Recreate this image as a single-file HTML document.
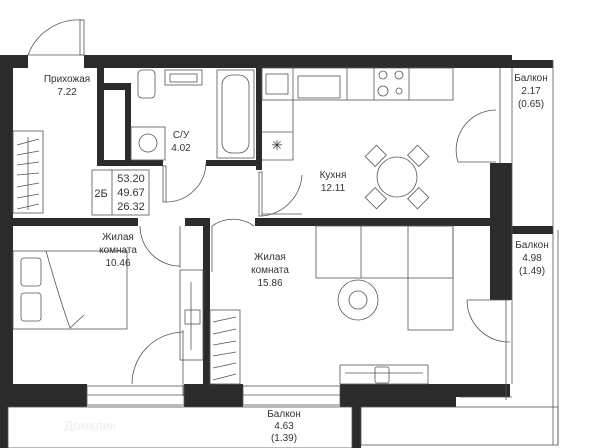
<!DOCTYPE html>
<html><head><meta charset="utf-8"><style>
body{margin:0;background:#fff;width:600px;height:448px;overflow:hidden}
svg{display:block}
text{font-family:"Liberation Sans",sans-serif;font-size:10px;fill:#333;text-anchor:middle}
.l{fill:none;stroke:#555;stroke-width:0.8}
.w{fill:#2b2b2b}
</style></head><body>
<svg width="600" height="448" viewBox="0 0 600 448">
<rect class="w" x="0" y="55" width="28" height="13"/>
<rect class="w" x="84" y="55" width="428" height="13"/>
<rect class="w" x="512" y="60" width="41" height="8"/>
<rect class="w" x="0" y="55" width="13" height="340"/>
<rect class="w" x="0" y="380" width="8" height="68"/>
<rect class="w" x="97" y="68" width="7" height="98"/>
<rect class="w" x="97" y="83" width="34" height="7"/>
<rect class="w" x="125" y="83" width="6" height="83"/>
<rect class="w" x="97" y="160" width="66" height="6"/>
<rect class="w" x="206" y="160" width="56" height="6"/>
<rect class="w" x="256" y="68" width="6" height="102"/>
<rect class="w" x="490" y="163" width="22" height="137"/>
<rect class="w" x="512" y="226" width="41" height="8"/>
<rect class="w" x="13" y="218" width="125" height="8"/>
<rect class="w" x="185" y="218" width="18" height="8"/>
<rect class="w" x="255" y="218" width="235" height="8"/>
<rect class="w" x="203" y="218" width="7" height="172"/>
<rect class="w" x="0" y="384" width="87" height="23"/>
<rect class="w" x="184" y="384" width="59" height="23"/>
<rect class="w" x="340" y="384" width="116" height="23"/>
<rect class="w" x="456" y="384" width="54" height="13"/>
<rect class="w" x="352" y="407" width="9" height="41"/>
<rect class="l" x="87" y="386" width="97" height="19"/>
<line class="l" x1="87" y1="395" x2="184" y2="395"/>
<rect class="l" x="243" y="386" width="97" height="19"/>
<line class="l" x1="243" y1="395" x2="340" y2="395"/>
<rect class="l" x="8" y="407" width="344" height="41"/>
<rect class="l" x="361" y="407" width="197" height="38"/>
<line class="l" x1="553" y1="60" x2="553" y2="445"/>
<line class="l" x1="558" y1="230" x2="558" y2="445"/>
<line class="l" x1="512" y1="68" x2="512" y2="384"/>
<line class="l" x1="500" y1="68" x2="500" y2="163"/>
<line class="l" x1="506" y1="300" x2="506" y2="400"/>
<line class="l" x1="460" y1="397" x2="512" y2="397"/>
<rect class="l" x="80" y="20" width="4" height="35"/>
<path class="l" d="M28 55 A54 54 0 0 1 82 20"/>
<line class="l" x1="28" y1="55" x2="84" y2="55"/>
<rect class="l" x="163" y="166" width="3" height="36"/>
<path class="l" d="M166 202 A40 40 0 0 0 206 163"/>
<rect class="l" x="259" y="172" width="3" height="44"/>
<path class="l" d="M262 216 A44 44 0 0 0 302 175"/>
<line class="l" x1="262" y1="214" x2="302" y2="214"/>
<path class="l" d="M458 162 A40 40 0 0 1 496 110"/>
<line class="l" x1="458" y1="162" x2="496" y2="162"/>
<path class="l" d="M140 226 A40 40 0 0 0 180 266"/><line class="l" x1="180" y1="226" x2="180" y2="268"/>
<path class="l" d="M212 226 A36 36 0 0 1 254 226"/><line class="l" x1="212" y1="226" x2="212" y2="272"/>
<path class="l" d="M132 384 A52 52 0 0 1 183 332"/><line class="l" x1="183" y1="330" x2="183" y2="396"/>
<path class="l" d="M467 300 A42 42 0 0 0 510 342"/><line class="l" x1="467" y1="300" x2="510" y2="300"/>
<rect class="l" x="138" y="70" width="17" height="28" rx="4"/>
<rect class="l" x="165" y="70" width="37" height="15"/><rect class="l" x="170" y="74" width="27" height="8"/>
<rect class="l" x="217" y="70" width="37" height="88"/><rect class="l" x="222" y="75" width="27" height="78" rx="10"/>
<rect class="l" x="131" y="127" width="34" height="33"/><circle class="l" cx="148" cy="143" r="9"/>
<rect class="l" x="13" y="131" width="30" height="82"/>
<line class="l" x1="28" y1="137" x2="28" y2="210"/>
<g class="l"><line x1="17" y1="145" x2="39" y2="139"/><line x1="17" y1="155" x2="39" y2="151"/><line x1="17" y1="165" x2="39" y2="162"/><line x1="17" y1="175" x2="39" y2="173"/><line x1="17" y1="187" x2="39" y2="183"/><line x1="17" y1="198" x2="39" y2="194"/><line x1="17" y1="209" x2="39" y2="204"/></g>
<rect class="l" x="92" y="170" width="57" height="45"/><line class="l" x1="112" y1="170" x2="112" y2="215"/>
<rect class="l" x="262" y="68" width="191" height="32"/>
<line class="l" x1="293" y1="68" x2="293" y2="160"/><line class="l" x1="262" y1="160" x2="293" y2="160"/>
<line class="l" x1="262" y1="132" x2="293" y2="132"/>
<rect class="l" x="266" y="74" width="22" height="20"/>
<rect class="l" x="298" y="76" width="42" height="22"/>
<line class="l" x1="347" y1="68" x2="347" y2="100"/><line class="l" x1="374" y1="68" x2="374" y2="100"/><line class="l" x1="409" y1="68" x2="409" y2="100"/>
<circle class="l" cx="383" cy="75" r="4"/><circle class="l" cx="399" cy="75" r="4"/><circle class="l" cx="383" cy="91" r="5"/><circle class="l" cx="399" cy="91" r="3"/>
<text x="277" y="150" style="font-size:14px">✳</text>
<circle class="l" cx="397" cy="177" r="20"/>
<g class="l" transform="rotate(45 397 177)"><rect x="389" y="140" width="16" height="14"/><rect x="389" y="200" width="16" height="14"/><rect x="360" y="169" width="14" height="16"/><rect x="420" y="169" width="14" height="16"/></g>
<rect class="l" x="13" y="251" width="114" height="78"/>
<rect class="l" x="21" y="258" width="20" height="28" rx="3"/><rect class="l" x="21" y="293" width="20" height="28" rx="3"/>
<path class="l" d="M46 251 Q60 300 70 328 L84 315"/>
<rect class="l" x="180" y="270" width="23" height="90"/>
<line class="l" x1="191" y1="282" x2="191" y2="350"/>
<rect class="l" x="185" y="310" width="15" height="14"/>
<rect class="l" x="316" y="226" width="137" height="52"/>
<rect class="l" x="408" y="226" width="45" height="104"/>
<line class="l" x1="361" y1="226" x2="361" y2="278"/>
<circle class="l" cx="358" cy="300" r="20"/><circle class="l" cx="358" cy="300" r="9"/>
<rect class="l" x="210" y="310" width="30" height="74"/>
<g class="l"><line x1="213" y1="322" x2="236" y2="317"/><line x1="213" y1="334" x2="236" y2="329"/><line x1="213" y1="345" x2="236" y2="341"/><line x1="213" y1="356" x2="236" y2="352"/><line x1="213" y1="368" x2="236" y2="363"/><line x1="213" y1="380" x2="236" y2="374"/></g>
<rect class="l" x="340" y="365" width="88" height="19"/>
<line class="l" x1="345" y1="373" x2="423" y2="373"/>
<rect class="l" x="375" y="367" width="14" height="16" rx="2"/>
<text x="67" y="82">Прихожая</text><text x="67" y="95">7.22</text>
<text x="181" y="138">С/У</text><text x="181" y="151">4.02</text>
<text x="101" y="197" style="font-size:11px">2Б</text>
<text x="131" y="182" style="font-size:11px">53.20</text><text x="131" y="196" style="font-size:11px">49.67</text><text x="131" y="210" style="font-size:11px">26.32</text>
<text x="333" y="178">Кухня</text><text x="333" y="191">12.11</text>
<text x="531" y="81">Балкон</text><text x="531" y="94">2.17</text><text x="531" y="107">(0.65)</text>
<text x="118" y="240">Жилая</text><text x="118" y="253">комната</text><text x="118" y="266">10.46</text>
<text x="270" y="260">Жилая</text><text x="270" y="273">комната</text><text x="270" y="286">15.86</text>
<text x="532" y="248">Балкон</text><text x="532" y="261">4.98</text><text x="532" y="274">(1.49)</text>
<text x="284" y="417">Балкон</text><text x="284" y="429">4.63</text><text x="284" y="441">(1.39)</text>
<text x="90" y="430" style="font-size:13px;fill:#eee">Домклик</text>
</svg>
</body></html>
